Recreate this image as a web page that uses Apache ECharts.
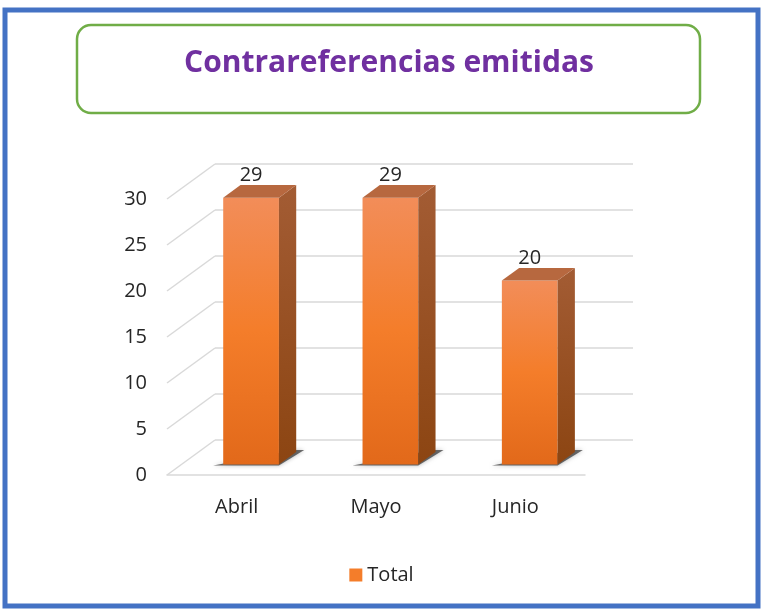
<!DOCTYPE html>
<html>
<head>
<meta charset="utf-8">
<script src="https://cdn.jsdelivr.net/npm/echarts@6/dist/echarts.min.js"></script>
<style>
  html, body { margin: 0; padding: 0; background: #fff; }
  #main { width: 763px; height: 609px; }
</style>
</head>
<body>
<div id="main"></div>
<script>
// datos del grafico
const categories = ['Abril', 'Mayo', 'Junio']
const totals = [29, 29, 20]
const yTicks = [0, 5, 10, 15, 20, 25, 30]

// profundidad del efecto 3D (px)
const depth = [48, -35]
const barFront = 0.3
const barBack = 0.66
const font = 'Open Sans'

var myChart = echarts.init(document.getElementById('main'))

// barras 3D
function renderBar(params, api) {
    var i = api.value(0)
    var base = api.coord([i, 0])
    var top = api.coord([i, api.value(1)])
    var band = api.size([1, 0])[0]
    var w = band * 0.4
    var fx = depth[0] * barFront, fy = depth[1] * barFront
    var dx = depth[0] * (barBack - barFront), dy = depth[1] * (barBack - barFront)
    var xl = base[0] - w / 2 + fx
    var xr = xl + w
    var yb = base[1] + fy
    var yt = top[1] + fy
    return {
        type: 'group',
        children: [
            {
                type: 'polygon',
                shape: { points: [[xl - 10, yb + 1], [xr, yb + 1], [xr + dx + 8, yb + dy - 2], [xr + dx - 2, yb + dy - 2]] },
                style: { fill: 'rgba(50,50,50,0.7)', shadowBlur: 4, shadowColor: 'rgba(0,0,0,0.4)' }
            },
            {
                type: 'rect',
                shape: { x: xl, y: yt, width: w, height: yb - yt },
                style: {
                    fill: new echarts.graphic.LinearGradient(0, 0, 0, 1, [
                        { offset: 0, color: '#F28D59' },
                        { offset: 0.5, color: '#F47D2A' },
                        { offset: 1, color: '#E2691A' }
                    ])
                }
            },
            {
                type: 'polygon',
                shape: { points: [[xr, yt], [xr + dx, yt + dy], [xr + dx, yb + dy], [xr, yb]] },
                style: {
                    fill: new echarts.graphic.LinearGradient(0, 0, 0, 1, [
                        { offset: 0, color: '#A35C34' },
                        { offset: 1, color: '#8C4512' }
                    ])
                }
            },
            {
                type: 'polygon',
                shape: { points: [[xl, yt], [xr, yt], [xr + dx, yt + dy], [xl + dx, yt + dy]] },
                style: { fill: '#B7683F' }
            },
            {
                type: 'text',
                style: {
                    x: (xl + xr) / 2, y: yt + dy,
                    text: String(api.value(1)),
                    align: 'center', verticalAlign: 'bottom',
                    fill: '#262626', font: '20px "' + font + '"'
                }
            }
        ]
    }
}

// lineas diagonales del lado izquierdo
function renderDiag(params, api) {
    var p = api.coord([0, api.value(1)])
    var x0 = p[0] - api.size([1, 0])[0] / 2
    return {
        type: 'line',
        shape: { x1: x0, y1: p[1], x2: x0 + depth[0], y2: p[1] + depth[1] },
        style: { stroke: '#D9D9D9', lineWidth: 1.5 }
    }
}

var option = {
    animation: false,
    backgroundColor: '#fff',
    graphic: [
        {
            type: 'rect', z: 0,
            shape: { x: 5, y: 10, width: 753, height: 596 },
            style: { fill: '#fff', stroke: '#4472C4', lineWidth: 5 }
        },
        {
            type: 'rect', z: 1,
            shape: { x: 77, y: 25, width: 623, height: 88, r: 14 },
            style: { fill: '#fff', stroke: '#70AD47', lineWidth: 2.5 }
        },
        {
            type: 'text', z: 2,
            style: {
                x: 389, y: 63, text: 'Contrareferencias emitidas',
                align: 'center', verticalAlign: 'middle',
                fill: '#7030A0', font: 'bold 30px "' + font + '"'
            }
        }
    ],
    legend: {
        data: ['Total'],
        top: 560, left: 'center',
        icon: 'rect', itemWidth: 13, itemHeight: 13, itemGap: 5,
        textStyle: { color: '#262626', fontSize: 20, fontFamily: font }
    },
    grid: [
        { left: 167, width: 418, top: 199, height: 276 },
        { left: 215, width: 418, top: 164, height: 276 }
    ],
    xAxis: [
        {
            type: 'category', data: categories, gridIndex: 0,
            axisLine: { lineStyle: { color: '#D9D9D9', width: 1.5 } },
            axisTick: { show: false },
            axisLabel: { color: '#262626', fontSize: 20, fontFamily: font, margin: 22 }
        },
        {
            type: 'category', data: categories, gridIndex: 1, show: false
        }
    ],
    yAxis: [
        {
            type: 'value', gridIndex: 0, min: 0, max: 30, interval: 5,
            axisLine: { show: false }, axisTick: { show: false },
            splitLine: { show: false },
            axisLabel: { color: '#262626', fontSize: 20, fontFamily: font, margin: 20 }
        },
        {
            type: 'value', gridIndex: 1, min: 0, max: 30, interval: 5,
            axisLine: { show: false }, axisTick: { show: false },
            axisLabel: { show: false },
            splitLine: { show: true, lineStyle: { color: '#D9D9D9', width: 1.5 } }
        }
    ],
    series: [
        {
            type: 'custom', name: 'diag', xAxisIndex: 0, yAxisIndex: 0,
            renderItem: renderDiag, silent: true,
            data: yTicks.map(v => [0, v])
        },
        {
            type: 'custom', name: 'Total', xAxisIndex: 0, yAxisIndex: 0,
            renderItem: renderBar,
            itemStyle: { color: '#F47D2A' },
            encode: { x: 0, y: 1 },
            data: categories.map((c, i) => [i, totals[i]])
        }
    ]
}
myChart.setOption(option)
</script>
</body>
</html>
